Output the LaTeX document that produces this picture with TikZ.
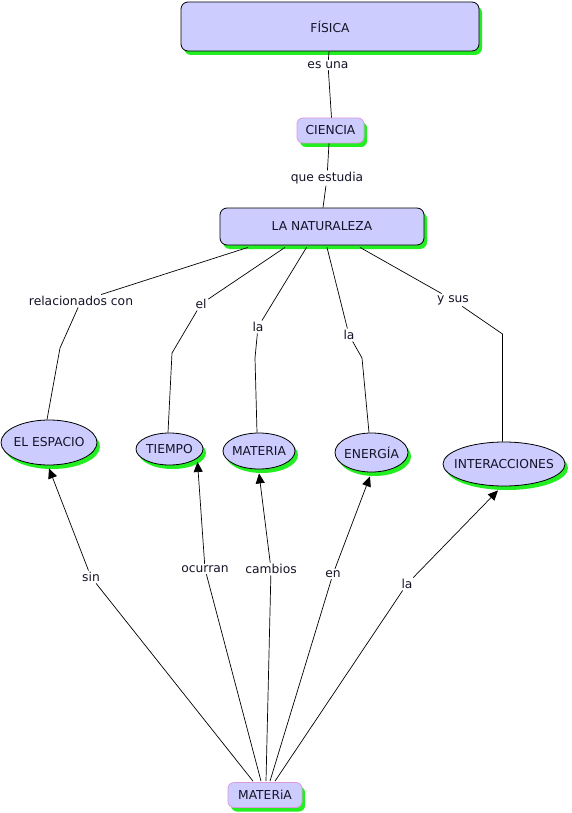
\documentclass[tikz,border=0pt]{standalone}
\usepackage{fontspec}
\setmainfont{DejaVu Sans}
\usetikzlibrary{shadows,arrows.meta,shapes.geometric}
\definecolor{cfill}{RGB}{204,204,255}
\definecolor{shgreen}{RGB}{34,238,34}
\definecolor{pinkb}{RGB}{221,153,221}
\definecolor{txt}{RGB}{20,20,40}
\newcommand{\zbox}[1]{\makebox[0pt]{#1}}
\begin{document}
\begin{tikzpicture}[x=1pt,y=-1pt,
  every node/.style={font=\fontsize{12.3}{14}\selectfont, text=txt},
  gshadow/.style={general shadow={fill=shgreen, shadow xshift=3pt, shadow yshift=-4pt}},
  concept/.style={draw=black, line width=0.8pt, fill=cfill, rounded corners=7pt, inner sep=0pt, gshadow},
  pconcept/.style={draw=pinkb, line width=0.8pt, fill=cfill, rounded corners=6pt, inner sep=0pt, gshadow},
  econcept/.style={ellipse, draw=black, line width=0.8pt, fill=cfill, inner sep=0pt, gshadow},
  lab/.style={inner sep=1.5pt},
  conn/.style={line width=0.7pt},
  arr/.style={line width=0.7pt, -{Triangle[length=10pt,width=9pt]}}
]
\useasboundingbox (0,0) rectangle (571,813);
\fill[white] (0,0) rectangle (571,813);

% concepts
\node[concept, minimum width=298pt, minimum height=49pt] (fis) at (330,26.5) {FÍSICA};
\node[pconcept, minimum width=67pt, minimum height=25pt] (cie) at (330.5,130.5) {\zbox{CIENCIA}};
\node[concept, minimum width=204pt, minimum height=37pt] (nat) at (322,226.5) {LA NATURALEZA};
\node[econcept, minimum width=96pt, minimum height=45pt] (esp) at (49,442.5) {\zbox{EL ESPACIO}};
\node[econcept, minimum width=67pt, minimum height=32pt] (tie) at (169.5,449) {\zbox{TIEMPO}};
\node[econcept, minimum width=72pt, minimum height=36pt] (mat) at (259,451) {\zbox{MATERIA}};
\node[econcept, minimum width=73pt, minimum height=39pt] (ene) at (371.5,452.5) {\zbox{ENERGÍA}};
\node[econcept, minimum width=122pt, minimum height=44pt] (int) at (504,464) {\zbox{INTERACCIONES}};
\node[pconcept, minimum width=74pt, minimum height=25pt] (mat2) at (265,795) {\zbox{MATERiA}};

% linking phrases
\node[lab] (esuna) at (328,65) {es una};
\node[lab] (qest) at (327,178) {que estudia};
\node[lab] (rel) at (81,301) {relacionados con};
\node[lab] (el) at (201,304) {el};
\node[lab] (la1) at (258,327) {la};
\node[lab] (la2) at (349,335) {la};
\node[lab] (ysus) at (453,300) {y sus};
\node[lab] (sin) at (91,577) {sin};
\node[lab] (ocu) at (205,569) {ocurran};
\node[lab] (cam) at (271,569) {cambios};
\node[lab] (en) at (333,574) {en};
\node[lab] (la3) at (407,584) {la};

% bend points
\coordinate (brel) at (60,348);
\coordinate (bel) at (172,353);
\coordinate (bla1) at (255,358);
\coordinate (bla2) at (362,358);
\coordinate (bysus) at (502.5,334);

% top connectors
\draw[conn] ([xshift=-1pt]fis.south) -- (esuna);
\draw[conn] (esuna) -- ([xshift=1pt]cie.north);
\draw[conn] ([xshift=-1.5pt]cie.south) -- (qest);
\draw[conn] (qest) -- ([xshift=1pt]nat.north);

\draw[conn] ([xshift=-74pt,yshift=-2pt]nat.south) -- (rel);
\draw[conn] (rel) -- (brel) -- ([xshift=-2pt]esp.north);
\draw[conn] ([xshift=-37pt,yshift=-2pt]nat.south) -- (el);
\draw[conn] (el) -- (bel) -- ([xshift=-1.5pt]tie.north);
\draw[conn] ([xshift=-15.5pt,yshift=-2pt]nat.south) -- (la1);
\draw[conn] (la1) -- (bla1) -- ([xshift=-2pt]mat.north);
\draw[conn] ([xshift=5pt,yshift=-2pt]nat.south) -- (la2);
\draw[conn] (la2) -- (bla2) -- ([xshift=-2.5pt]ene.north);
\draw[conn] ([xshift=38pt,yshift=-2pt]nat.south) -- (ysus);
\draw[conn] (ysus) -- (bysus) -- ([xshift=-1.5pt]int.north);

% bottom connectors
\draw[conn] ([xshift=-12pt,yshift=1pt]mat2.north) -- (sin);
\draw[arr] (sin) -- ([yshift=-3pt]esp.south);
\draw[conn] ([xshift=-4pt,yshift=1pt]mat2.north) -- (ocu);
\draw[arr] (ocu) -- ([xshift=28pt,yshift=-13pt]tie.center);
\draw[conn] ([xshift=1pt,yshift=1pt]mat2.north) -- (cam);
\draw[arr] (cam) -- ([yshift=-4pt]mat.south);
\draw[conn] ([xshift=5pt,yshift=1pt]mat2.north) -- (en);
\draw[arr] (en) -- ([xshift=-1.5pt,yshift=-4pt]ene.south);
\draw[conn] ([xshift=10pt,yshift=1pt]mat2.north) -- (la3);
\draw[arr] (la3) -- ([xshift=-6pt,yshift=-4pt]int.south);
\end{tikzpicture}
\end{document}
